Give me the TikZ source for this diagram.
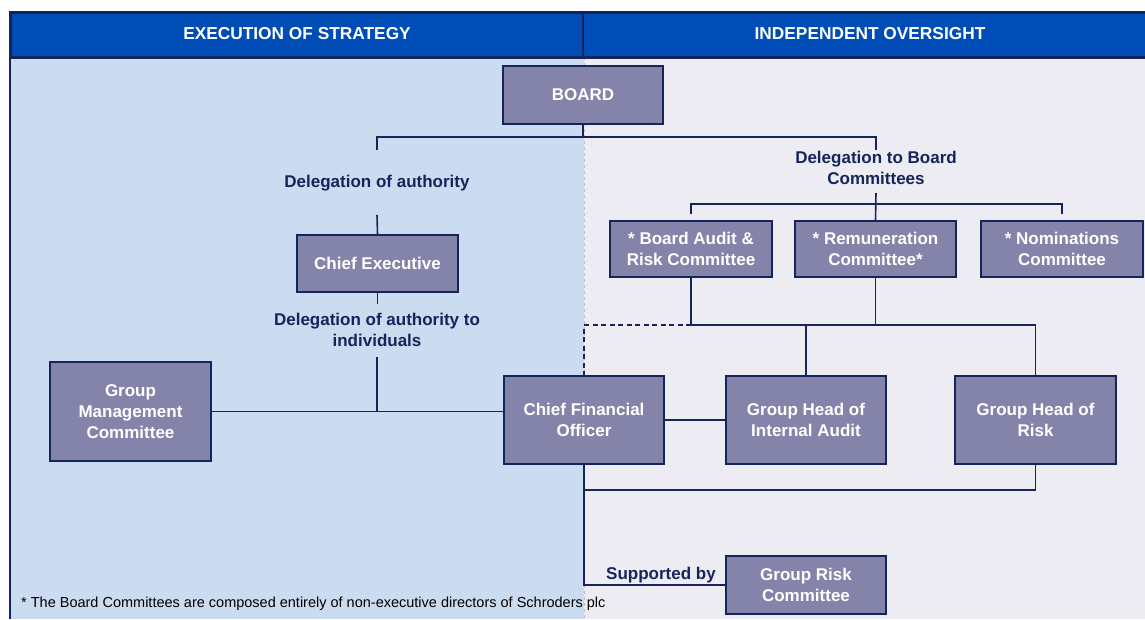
\documentclass[tikz,border=0pt]{standalone}
\usepackage{fontspec}
\setmainfont{Liberation Sans}
\definecolor{navy}{RGB}{22,36,92}
\definecolor{headblue}{RGB}{0,77,184}
\definecolor{leftpanel}{RGB}{203,219,240}
\definecolor{rightpanel}{RGB}{236,236,242}
\definecolor{boxfill}{RGB}{132,132,170}
\definecolor{sepgray}{RGB}{190,190,196}
\begin{document}
\begin{tikzpicture}[x=1pt,y=-1pt,
  orgbox/.style={draw=navy, line width=1.4pt, fill=boxfill, text=white,
    font=\fontsize{17}{21}\selectfont\bfseries, align=center, inner sep=0pt},
  lbl/.style={text=navy, font=\fontsize{17}{21}\selectfont\bfseries, align=center, inner sep=0pt},
  headtxt/.style={text=white, font=\fontsize{17.3}{21}\selectfont\bfseries, inner sep=0pt},
  link/.style={draw=navy, line width=1.6pt},
]
\useasboundingbox (0,0) rectangle (1145,619);
\fill[white] (0,0) rectangle (1145,619);

% background panels
\fill[leftpanel] (10,57) rectangle (584,619);
\fill[rightpanel] (584,57) rectangle (1145,619);
\draw[sepgray, line width=1pt, dashed] (584,57) -- (584,619);
\draw[navy, line width=2pt] (10,57) -- (10,619);

% header band
\draw[navy, line width=3pt, fill=headblue] (10,12) rectangle (1146,57);
\draw[navy, line width=2.5pt] (583,12) -- (583,57);
\node[headtxt] (hleft) at (297,34) {EXECUTION OF STRATEGY};
\node[headtxt] (hright) at (870,34) {INDEPENDENT OVERSIGHT};

% boxes
\node[orgbox, minimum width=160, minimum height=58] (board) at (583,95) {BOARD};
\node[orgbox, minimum width=161, minimum height=57] (ceo) at (377.5,263.5) {Chief Executive};
\node[orgbox, minimum width=161, minimum height=99] (gmc) at (130.5,411.5) {Group\\Management\\Committee};
\node[orgbox, minimum width=160, minimum height=88] (cfo) at (584,420) {Chief Financial\\Officer};
\node[orgbox, minimum width=162, minimum height=56] (bar) at (691,249) {* Board Audit \&\\Risk Committee};
\node[orgbox, minimum width=161, minimum height=56] (rem) at (875.5,249) {* Remuneration\\Committee*};
\node[orgbox, minimum width=162, minimum height=56] (nom) at (1062,249) {* Nominations\\Committee};
\node[orgbox, minimum width=160, minimum height=88] (ia) at (806,420) {Group Head of\\Internal Audit};
\node[orgbox, minimum width=161, minimum height=88] (risk) at (1035.5,420) {Group Head of\\Risk};
\node[orgbox, minimum width=160, minimum height=58] (grc) at (806,585) {Group Risk\\Committee};

% labels
\node[lbl] (del1) at (377,183) {Delegation of authority};
\node[lbl] (del2) at (377,330) {Delegation of authority to\\individuals};
\node[lbl] (del3) at (876,168) {Delegation to Board\\Committees};
\node[lbl, anchor=south] (sup) at (661,583) {Supported by};
\node[anchor=west, inner sep=0pt, font=\fontsize{14.5}{16}\selectfont, text=black] (fn) at (21,604)
  {* The Board Committees are composed entirely of non-executive directors of Schroders plc};

% junction points
\coordinate (bl) at (377,150);
\coordinate (br) at (876,150);
\coordinate (d1s) at (377,215);
\coordinate (d2s) at (377,357);
\coordinate (d2e) at (377,411.5);
\coordinate (dc) at (876,193);
\coordinate (cl) at (691,214);
\coordinate (cr) at (1062,214);
\coordinate (jb) at (691,325);
\coordinate (jr) at (584,490);

% board delegation bracket
\draw[link] (board.south) -- ++(0,13);
\draw[link] (bl) -- ++(0,-13) -| (br);

% executive line
\draw[link] (d1s) -- (ceo.north);
\draw[link] (ceo.south) -- ++(0,11);
\draw[link] (d2s) -- (d2e);
\draw[link] (gmc.east) -- (gmc.east -| cfo.west);

% board committees
\draw[link] (dc) -- (rem.north);
\draw[link] (cl) -- ++(0,-10) -| (cr);

% committee reporting lines
\draw[link] (bar.south) -- (jb);
\draw[link] (rem.south) -- (rem.south |- jb);
\draw[link] (jb) -| (risk.north);
\draw[link] (jb -| ia.north) -- (ia.north);
\draw[link, dash pattern=on 5pt off 3.5pt] (jb) -| (cfo.north);

% finance and risk links
\draw[link] (cfo.east) -- (ia.west);
\draw[link] (risk.south) |- (jr);
\draw[link] (cfo.south) |- (grc.west);
\end{tikzpicture}
\end{document}
